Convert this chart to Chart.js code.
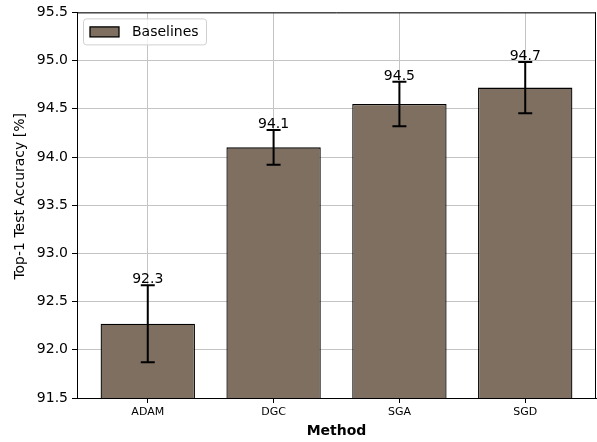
<!DOCTYPE html>
<html>
<head>
<meta charset="utf-8">
<script src="https://cdn.jsdelivr.net/npm/chart.js@4/dist/chart.umd.min.js"></script>
<style>
  html, body { margin: 0; padding: 0; background: #fff; }
  #wrap { width: 597px; height: 442px; }
</style>
</head>
<body>
<div id="wrap"><canvas id="accuracy-chart" width="597" height="442"></canvas></div>
<script>
// data
const methods = ['ADAM', 'DGC', 'SGA', 'SGD'];
const accuracy = [92.27, 94.10, 94.55, 94.72];
const accuracyErr = [0.40, 0.18, 0.23, 0.265];
const barLabels = ['92.3', '94.1', '94.5', '94.7'];
const yTicks = [91.5, 92.0, 92.5, 93.0, 93.5, 94.0, 94.5, 95.0, 95.5];
const seriesName = 'Baselines';

const FONT = "'DejaVu Sans', sans-serif";
const BAR_COLOR = '#7f6f60';
const GRID_COLOR = '#c4c4c4';

// error bars, value labels, top/right spines and the framed legend
const extrasPlugin = {
    id: 'extras',
    afterDatasetsDraw(chart) {
        const ctx = chart.ctx;
        const xs = chart.scales.x;
        const ys = chart.scales.y;
        ctx.save();
        ctx.strokeStyle = '#000';
        ctx.lineWidth = 2;
        accuracy.forEach((v, i) => {
            const px = xs.getPixelForValue(i);
            const top = ys.getPixelForValue(v + accuracyErr[i]);
            const bot = ys.getPixelForValue(v - accuracyErr[i]);
            ctx.beginPath();
            ctx.moveTo(px, top); ctx.lineTo(px, bot);
            ctx.moveTo(px - 7, top); ctx.lineTo(px + 7, top);
            ctx.moveTo(px - 7, bot); ctx.lineTo(px + 7, bot);
            ctx.stroke();

            ctx.fillStyle = '#000';
            ctx.font = '14px ' + FONT;
            ctx.textAlign = 'center';
            ctx.textBaseline = 'alphabetic';
            ctx.fillText(barLabels[i], px, top - 2);
        });
        ctx.restore();
    },
    afterDraw(chart) {
        const ctx = chart.ctx;
        const a = chart.chartArea;
        ctx.save();
        // top and right spines
        ctx.strokeStyle = '#000';
        ctx.lineWidth = 1;
        ctx.beginPath();
        ctx.moveTo(a.left, a.top + 0.5); ctx.lineTo(a.right, a.top + 0.5);
        ctx.moveTo(a.right - 0.5, a.top); ctx.lineTo(a.right - 0.5, a.bottom);
        ctx.stroke();

        // legend box
        const lx = a.left + 6, ly = a.top + 6, lw = 123, lh = 26;
        ctx.fillStyle = 'rgba(255,255,255,0.8)';
        ctx.strokeStyle = '#d0d0d0';
        ctx.beginPath();
        ctx.roundRect(lx + 0.5, ly + 0.5, lw, lh, 3);
        ctx.fill();
        ctx.stroke();

        ctx.fillStyle = BAR_COLOR;
        ctx.strokeStyle = '#000';
        ctx.lineWidth = 1.3;
        ctx.fillRect(lx + 7, ly + 8.5, 29, 10);
        ctx.strokeRect(lx + 7, ly + 8.5, 29, 10);

        ctx.fillStyle = '#000';
        ctx.font = '14px ' + FONT;
        ctx.textAlign = 'left';
        ctx.textBaseline = 'middle';
        ctx.fillText(seriesName, lx + 49, ly + 14);
        ctx.restore();
    }
};

const ctx = document.getElementById('accuracy-chart').getContext('2d');
new Chart(ctx, {
    type: 'bar',
    data: {
        datasets: [{
            label: seriesName,
            data: accuracy.map((v, i) => ({ x: i, y: v })),
            backgroundColor: BAR_COLOR,
            borderColor: '#000',
            borderWidth: 1.3,
            borderSkipped: false,
            categoryPercentage: 1,
            barPercentage: 0.75
        }]
    },
    options: {
        responsive: false,
        animation: false,
        events: [],
        layout: { padding: { top: 12, right: 1, left: 0, bottom: 0 } },
        plugins: {
            legend: { display: false },
            tooltip: { enabled: false }
        },
        scales: {
            x: {
                type: 'linear',
                offset: false,
                min: -0.5625,
                max: 3.5625,
                afterBuildTicks: (scale) => {
                    scale.ticks = methods.map((m, i) => ({ value: i }));
                },
                afterFit: (scale) => { scale.height = 44; },
                ticks: {
                    color: '#000',
                    font: { family: FONT, size: 11 },
                    padding: 3,
                    maxRotation: 0,
                    autoSkip: false,
                    callback: (v) => methods[v]
                },
                grid: { offset: false, color: GRID_COLOR, lineWidth: 1, tickColor: '#000', tickLength: 5 },
                border: { display: true, color: '#000', width: 1 },
                title: {
                    display: true,
                    text: 'Method',
                    color: '#000',
                    font: { family: FONT, size: 14, weight: 'bold' },
                    padding: { top: 0, bottom: 2 }
                }
            },
            y: {
                min: yTicks[0],
                max: yTicks[yTicks.length - 1],
                afterBuildTicks: (scale) => {
                    scale.ticks = yTicks.map(v => ({ value: v }));
                },
                afterFit: (scale) => { scale.width = 77; },
                ticks: {
                    color: '#000',
                    font: { family: FONT, size: 14 },
                    padding: 4,
                    callback: (v) => v.toFixed(1)
                },
                grid: { color: GRID_COLOR, lineWidth: 1, tickColor: '#000', tickLength: 5 },
                border: { display: true, color: '#000', width: 1 },
                title: {
                    display: true,
                    // leading spaces nudge the label up like the original
                    text: '    Top-1 Test Accuracy [%]',
                    color: '#000',
                    font: { family: FONT, size: 14 },
                    padding: { top: 12, bottom: 0 }
                }
            }
        }
    },
    plugins: [extrasPlugin]
});
</script>
</body>
</html>
